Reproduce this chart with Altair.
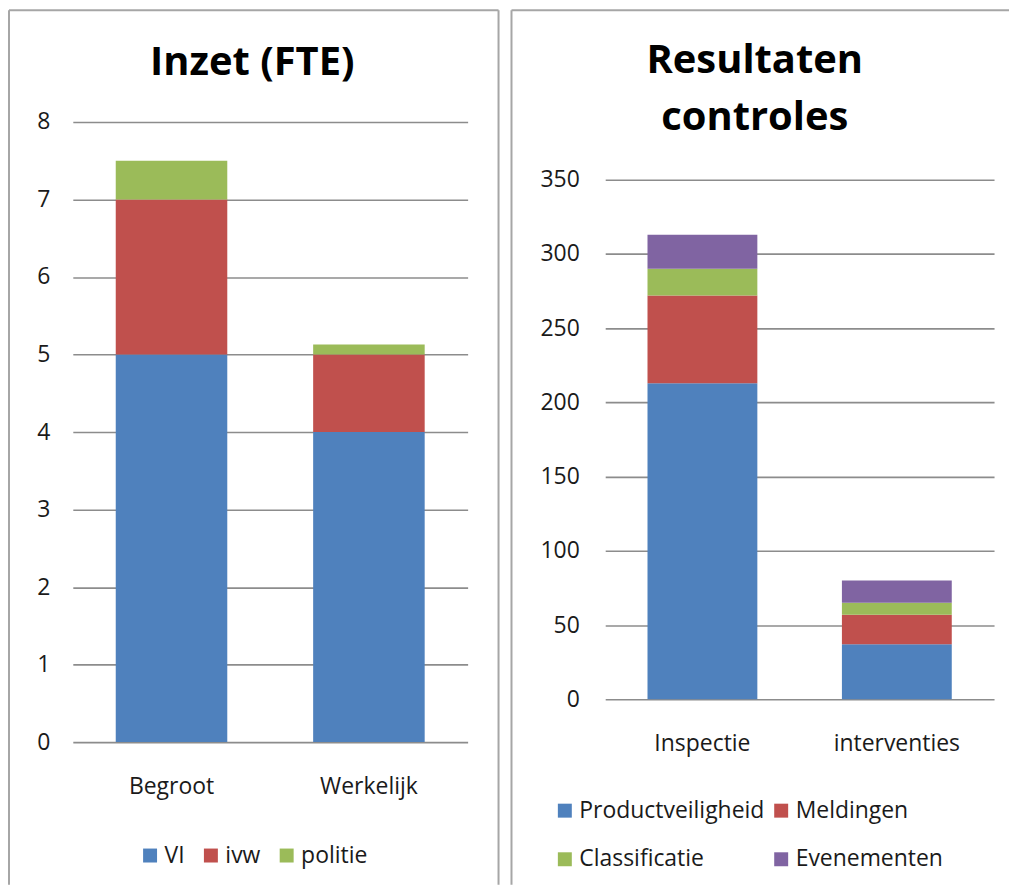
import altair as alt
import pandas as pd

# ---------------- data ----------------
fte_categories = ["Begroot", "Werkelijk"]
fte_series = ["VI", "ivw", "politie"]
fte_vi = [5, 4]
fte_ivw = [2, 1]
fte_politie = [0.5, 0.13]
fte_ticks = [0, 1, 2, 3, 4, 5, 6, 7, 8]

res_categories = ["Inspectie", "interventies"]
res_series = ["Productveiligheid", "Meldingen", "Classificatie", "Evenementen"]
res_product = [213, 37]
res_meldingen = [59, 20]
res_classificatie = [18, 8]
res_evenementen = [23, 15]
res_ticks = [0, 50, 100, 150, 200, 250, 300, 350]

colors_fte = ["#4F81BD", "#C0504D", "#9BBB59"]
colors_res = ["#4F81BD", "#C0504D", "#9BBB59", "#8064A2"]

FONT = "Open Sans"
TXT = "#1a1a1a"
GRID = "#8c8c8c"
FRAME = "#a6a6a6"
FS = 23


def long_table(categories, series, columns):
    rows = []
    for si, (name, vals) in enumerate(zip(series, columns)):
        for c, v in zip(categories, vals):
            rows.append({"cat": c, "series": name, "value": v, "order": si})
    return pd.DataFrame(rows)


df_fte = long_table(fte_categories, fte_series, [fte_vi, fte_ivw, fte_politie])
df_res = long_table(res_categories, res_series,
                    [res_product, res_meldingen, res_classificatie, res_evenementen])

blank = alt.Data(values=[{}])


def bars(df, categories, series, colors, ticks, ymax, legend, ypad, xpad):
    return alt.Chart(df).mark_bar().encode(
        x=alt.X("cat:N", sort=categories,
                scale=alt.Scale(paddingInner=0.435, paddingOuter=0.2175),
                axis=alt.Axis(title=None, labelAngle=0, domain=False, ticks=False,
                              labelPadding=xpad, labelFontSize=FS, labelFont=FONT,
                              labelColor=TXT)),
        y=alt.Y("value:Q", stack="zero",
                scale=alt.Scale(domain=[0, ymax], nice=False, zero=True),
                axis=alt.Axis(title=None, values=ticks, domain=False, ticks=False,
                              grid=True, gridColor=GRID, gridWidth=1.6,
                              labelPadding=ypad, labelFontSize=FS, labelFont=FONT,
                              labelColor=TXT)),
        color=alt.Color("series:N",
                        scale=alt.Scale(domain=series, range=colors),
                        legend=legend),
        order=alt.Order("order:Q", sort="ascending"),
    )


def rule(**enc):
    return alt.Chart(blank).mark_rule(color=FRAME, strokeWidth=2).encode(
        **{k: alt.value(v) for k, v in enc.items()})


def title_text(text, x, y):
    return alt.Chart(blank).mark_text(
        font=FONT, fontSize=40, fontWeight="bold", align="center",
        baseline="alphabetic", color="black", lineBreak="\n", lineHeight=57,
    ).encode(x=alt.value(x), y=alt.value(y), text=alt.value(text))


legend_fte = alt.Legend(
    title=None, orient="none", legendX=66, legendY=724, direction="horizontal",
    columns=3, symbolType="square", symbolSize=196, symbolStrokeWidth=0,
    labelFontSize=FS, labelFont=FONT, labelColor=TXT, labelOffset=3,
    columnPadding=14, labelLimit=400, padding=0)

legend_res = alt.Legend(
    title=None, orient="none", legendX=-52, legendY=679, direction="horizontal",
    columns=2, symbolType="square", symbolSize=196, symbolStrokeWidth=0,
    labelFontSize=FS, labelFont=FONT, labelColor=TXT, labelOffset=3,
    columnPadding=5, rowPadding=25, labelLimit=400, padding=0)

# both plot areas share the same top (page y 120); the right one reaches
# 350 at page y 178, so its domain extends above 350 (no tick / grid there)
right_height = 579
right_ymax = 350 * right_height / 521

left = alt.layer(
    rule(x=-64, x2=427, y=-112),
    rule(x=-64, y=-112, y2=765),
    rule(x=427, y=-112, y2=765),
    title_text("Inzet (FTE)", 180, -47),
    bars(df_fte, fte_categories, fte_series, colors_fte, fte_ticks, 8,
         legend_fte, 23, 34),
).properties(width=396, height=622)

right = alt.layer(
    rule(x=-94, x2=405, y=-112),
    rule(x=-94, y=-112, y2=765),
    title_text("Resultaten\ncontroles", 150, -49),
    bars(df_res, res_categories, res_series, colors_res, res_ticks, right_ymax,
         legend_res, 26, 33),
).properties(width=390, height=right_height)

chart = alt.hconcat(left, right, spacing=11).resolve_scale(
    color="independent", x="independent", y="independent"
).configure_view(stroke=None).properties(
    padding={"left": 0, "top": 0, "right": 0, "bottom": 0},
    background="white",
)

chart.save("out.html", embed_options={"renderer": "svg", "actions": False})
